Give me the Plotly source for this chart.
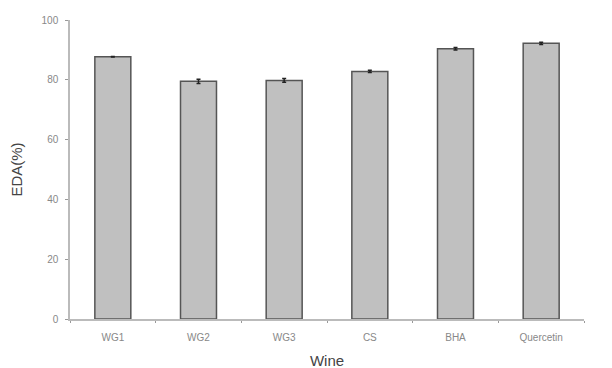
import plotly.graph_objects as go

categories = ["WG1", "WG2", "WG3", "CS", "BHA", "Quercetin"]
values = [87.7, 79.5, 79.8, 82.8, 90.4, 92.2]
errors = [0.1, 0.7, 0.6, 0.4, 0.4, 0.4]
y_ticks = [0, 20, 40, 60, 80, 100]

fig = go.Figure()
fig.add_trace(go.Bar(
    x=categories, y=values,
    width=0.42,
    marker=dict(color="#c0c0c0", line=dict(color="#555555", width=1.5)),
    error_y=dict(type="data", array=errors, visible=True, color="#222222", thickness=1.5, width=2),
))

fig.update_layout(
    width=612, height=368,
    margin=dict(l=62, r=36, t=12, b=57, autoexpand=False),
    paper_bgcolor="white", plot_bgcolor="white",
    showlegend=False,
    font=dict(family="Liberation Sans, Arial, sans-serif", color="#888888"),
)
fig.update_xaxes(
    automargin=False,
    showline=True, linecolor="#bbbbbb", linewidth=1.5,
    ticks="outside", tickson="boundaries", ticklen=2, tickcolor="#999999",
    ticklabelstandoff=8,
    tickfont=dict(size=10, color="#888888"),
    title=dict(text="Wine", font=dict(size=15, color="#444444"), standoff=14),
    showgrid=False,
)
fig.update_yaxes(
    automargin=False,
    range=[0, 100], tickvals=y_ticks,
    showline=True, linecolor="#bbbbbb", linewidth=1.5,
    ticks="outside", ticklen=3, tickcolor="#999999",
    ticklabelstandoff=5,
    tickfont=dict(size=10, color="#888888"),
    title=dict(text="EDA(%)", font=dict(size=15, color="#444444"), standoff=18),
    showgrid=False, zeroline=False,
)

fig.write_html("out.html")
